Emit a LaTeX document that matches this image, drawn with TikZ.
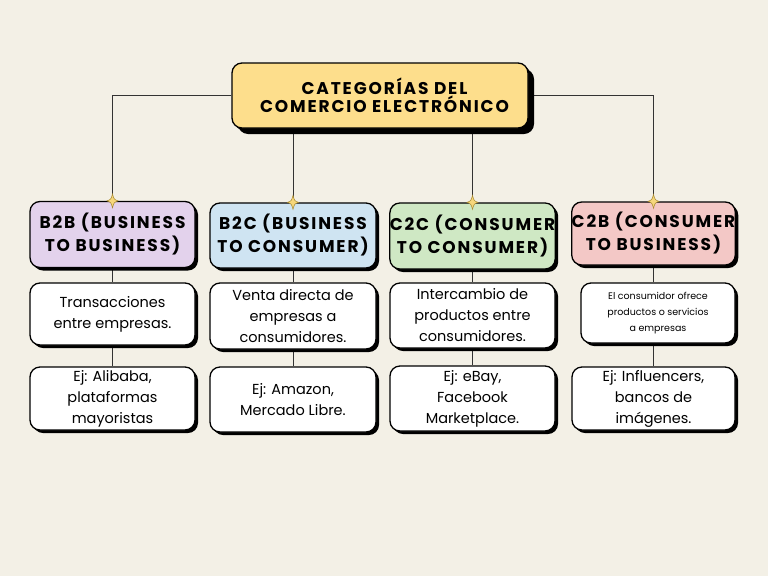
\documentclass[tikz,border=0pt]{standalone}
\usepackage{fontspec}
\setmainfont{Poppins}
\newfontfamily\headfont[LetterSpace=11]{Poppins}
\usetikzlibrary{shadows,backgrounds}
\definecolor{bg}{HTML}{F3F0E6}
\definecolor{titlefill}{HTML}{FDDE8C}
\definecolor{lav}{HTML}{E3D2EC}
\definecolor{skyb}{HTML}{CFE4F2}
\definecolor{mint}{HTML}{CFE8C4}
\definecolor{rose}{HTML}{F3C8C6}
\definecolor{gold}{HTML}{F6D77C}
\definecolor{golddark}{HTML}{A88A30}
\definecolor{linec}{HTML}{333333}
\tikzset{
  box/.style={draw=black, line width=1.3pt, rounded corners=10pt, inner sep=0pt, align=center,
    drop shadow={shadow xshift=3pt, shadow yshift=-3pt, opacity=1, fill=black}},
  titlebox/.style={box, fill=titlefill, minimum width=296pt, minimum height=65pt,
    drop shadow={shadow xshift=6pt, shadow yshift=-6pt, opacity=1, fill=black},
    font=\headfont\bfseries\fontsize{17}{18}\selectfont},
  catbox/.style={box, font=\headfont\bfseries\fontsize{17}{23}\selectfont},
  descbox/.style={box, fill=white, font=\fontsize{14.5}{21}\selectfont},
  smallbox/.style={box, fill=white, font=\fontsize{9.5}{16}\selectfont},
  conn/.style={draw=linec, line width=0.6pt},
  spark/.style={fill=gold, draw=golddark, line width=0.5pt}
}
\begin{document}
\begin{tikzpicture}[x=1pt, y=-1pt]
\useasboundingbox (0,0) rectangle (768,576);

\node[titlebox] (title) at (380,95.5) {\hspace*{9pt}CATEGORÍAS DEL\\\hspace*{9pt}COMERCIO ELECTRÓNICO};

\node[catbox, fill=lav, minimum width=165pt, minimum height=66pt] (b2b) at (112.5,234.5) {B2B (BUSINESS\\TO BUSINESS)};
\node[catbox, fill=skyb, minimum width=166pt, minimum height=65pt] (b2c) at (293,235.5) {B2C (BUSINESS\\TO CONSUMER)};
\node[catbox, fill=mint, minimum width=165pt, minimum height=66pt] (c2c) at (472.5,236) {C2C (CONSUMER\\TO CONSUMER)};
\node[catbox, fill=rose, minimum width=163pt, minimum height=63pt] (c2b) at (653.5,233.5) {C2B (CONSUMER\\TO BUSINESS)};

\node[descbox, minimum width=165pt, minimum height=62pt] (d1) at (112.5,314) {Transacciones\\entre empresas.};
\node[descbox, minimum width=166pt, minimum height=66pt] (d2) at (293,316) {Venta directa de\\empresas a\\consumidores.};
\node[descbox, minimum width=165pt, minimum height=65pt] (d3) at (472.5,315.5) {Intercambio de\\productos entre\\consumidores.};
\node[smallbox, minimum width=154pt, minimum height=60pt] (d4) at (658,313) {El consumidor ofrece\\productos o servicios\\a empresas};

\node[descbox, minimum width=165pt, minimum height=63pt] (e1) at (112.5,398.5) {Ej: Alibaba,\\plataformas\\mayoristas};
\node[descbox, minimum width=166pt, minimum height=65pt] (e2) at (293,399.5) {Ej: Amazon,\\Mercado Libre.};
\node[descbox, minimum width=165pt, minimum height=65pt] (e3) at (472.5,398.5) {Ej: eBay,\\Facebook\\Marketplace.};
\node[descbox, minimum width=163pt, minimum height=63pt] (e4) at (653.5,398.5) {Ej: Influencers,\\bancos de\\imágenes.};

\begin{scope}[on background layer]
\fill[bg] (0,0) rectangle (768,576);
\draw[conn] (title.west) -- (title.west -| b2b.north) -- (b2b.north);
\draw[conn] (title.south -| b2c.north) -- (b2c.north);
\draw[conn] (title.south -| c2c.north) -- (c2c.north);
\draw[conn] (title.east) -- (title.east -| c2b.north) -- (c2b.north);
\draw[conn] (b2b.south) -- (d1.north -| b2b.south);
\draw[conn] (b2c.south) -- (d2.north -| b2c.south);
\draw[conn] (c2c.south) -- (d3.north -| c2c.south);
\draw[conn] (c2b.south) -- (d4.north -| c2b.south);
\draw[conn] (d1.south) -- (e1.north -| d1.south);
\draw[conn] (d2.south) -- (e2.north -| d2.south);
\draw[conn] (d3.south) -- (e3.north -| d3.south);
\draw[conn] (d4.south -| c2b.south) -- (e4.north -| c2b.south);
\end{scope}

\foreach \n in {b2b,b2c,c2c,c2b}{
  \draw[spark, shift={(\n.north)}] (0,-7) .. controls (1.5,-1.5) .. (5.5,0)
     .. controls (1.5,1.5) .. (0,7) .. controls (-1.5,1.5) .. (-5.5,0)
     .. controls (-1.5,-1.5) .. cycle;
}
\end{tikzpicture}
\end{document}
